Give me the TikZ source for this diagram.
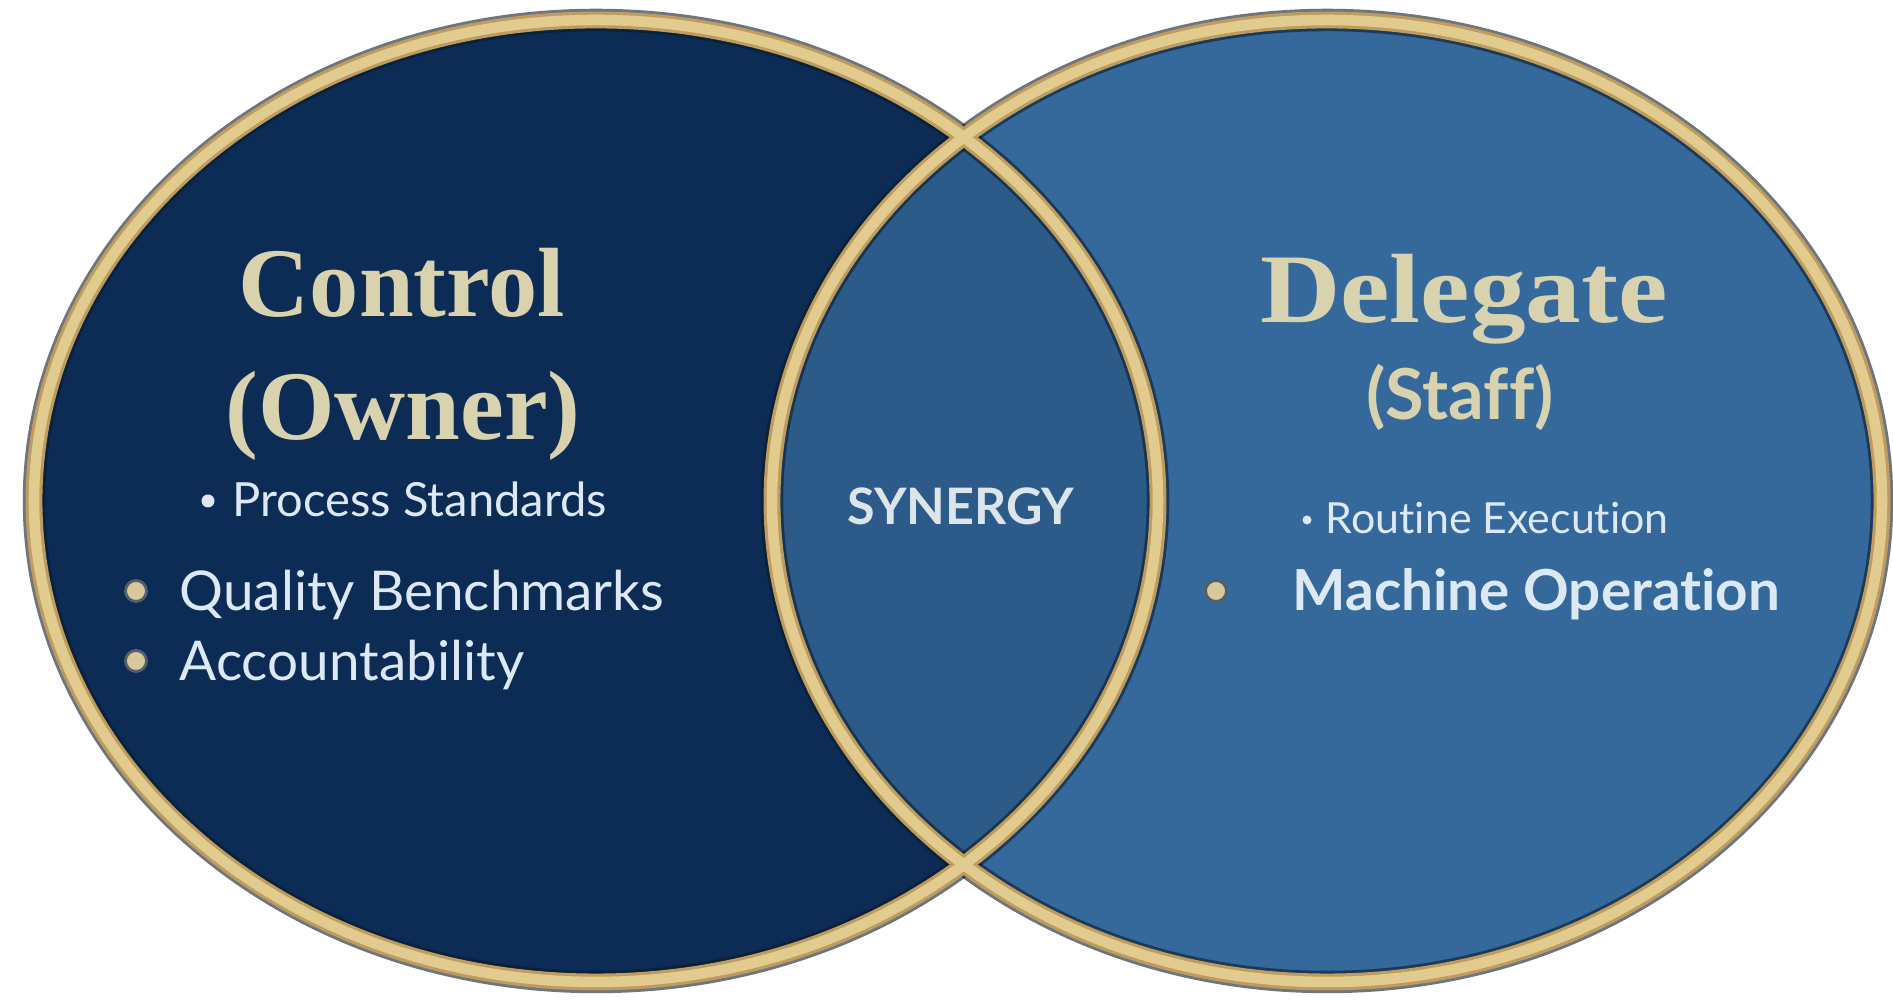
\documentclass[tikz,border=0pt]{standalone}
\usepackage{fontspec}
\usepackage{graphicx}
\setmainfont{Liberation Serif}
\newfontfamily\lato[Ligatures={NoCommon}]{Lato}
\definecolor{navy}{HTML}{0C2C55}
\definecolor{midblue}{HTML}{35699B}
\definecolor{lensblue}{HTML}{2C5B8A}
\definecolor{golddark}{HTML}{BE9C5E}
\definecolor{goldlight}{HTML}{E2CB8E}
\definecolor{shadowcol}{HTML}{0A1A2C}
\definecolor{cream}{HTML}{D8D2AE}
\definecolor{listtext}{HTML}{DCE8F4}
\definecolor{bulletgold}{HTML}{D9C89A}
\tikzset{
  heading/.style={font=\fontsize{28}{30}\selectfont\bfseries, text=cream, inner sep=0pt, anchor=base},
  subhead/.style={font=\lato\fontsize{20}{22}\selectfont\bfseries, text=cream, inner sep=0pt, anchor=base},
  item/.style={font=\lato\fontsize{#1}{#1}\selectfont, text=listtext, inner sep=0pt, anchor=base west},
  bolditem/.style={font=\lato\fontsize{#1}{#1}\selectfont\bfseries, text=listtext, inner sep=0pt, anchor=base west},
  bigdot/.style={circle, fill=bulletgold, draw=shadowcol!70, line width=0.8pt, minimum size=0.21cm, inner sep=0pt},
  smalldot/.style={circle, fill=listtext, minimum size=#1, inner sep=0pt},
  ring/.style={line width=#1},
}
\begin{document}
\begin{tikzpicture}
\useasboundingbox (0,0) rectangle (18.93,10);
\fill[white] (0,0) rectangle (18.93,10);
% fills
\fill[navy] (5.96,4.99) ellipse [x radius=5.62, y radius=4.81];
\fill[midblue] (13.27,4.99) ellipse [x radius=5.55, y radius=4.81];
\begin{scope}
  \clip (5.96,4.99) ellipse [x radius=5.62, y radius=4.81];
  \fill[lensblue] (13.27,4.99) ellipse [x radius=5.55, y radius=4.81];
\end{scope}
% shadows
\draw[draw=shadowcol, draw opacity=0.6, ring=6.4pt] (5.96,4.99) ellipse [x radius=5.62, y radius=4.81];
\draw[draw=shadowcol, draw opacity=0.6, ring=6.4pt] (13.27,4.99) ellipse [x radius=5.55, y radius=4.81];
% gold rings
\draw[golddark, ring=4.8pt] (5.96,4.99) ellipse [x radius=5.62, y radius=4.81];
\draw[golddark, ring=4.8pt] (13.27,4.99) ellipse [x radius=5.55, y radius=4.81];
\draw[goldlight, ring=3.0pt] (5.96,4.99) ellipse [x radius=5.62, y radius=4.81];
\draw[goldlight, ring=3.0pt] (13.27,4.99) ellipse [x radius=5.55, y radius=4.81];
% headings
\node[heading] (control) at (4.02,6.83) {Control};
\node[heading] (owner) at (4.03,5.60) {(Owner)};
\node[heading] (delegate) at (14.64,6.77) {\scalebox{1.13}[1]{Delegate}};
\node[subhead] (staff) at (14.60,5.80) {(Staff)};
% left list
\node[smalldot=0.13cm] (b1) at (2.08,4.99) {};
\node[item=13.4] (t1) at (2.32,4.83) {Process Standards};
\node[bigdot] (b2) at (1.36,4.09) {};
\node[item=15.6] (t2) at (1.79,3.89) {Quality Benchmarks};
\node[bigdot] (b3) at (1.36,3.39) {};
\node[item=15.6] (t3) at (1.79,3.19) {Accountability};
% centre
\node[font=\lato\fontsize{14.3}{15}\selectfont\bfseries, text=listtext!85!cream, inner sep=0pt, anchor=base] (syn) at (9.61,4.75) {SYNERGY};
% right list
\node[smalldot=0.09cm] (b4) at (13.07,4.80) {};
\node[item=12.2] (t4) at (13.25,4.66) {Routine Execution};
\node[bigdot] (b5) at (12.16,4.09) {};
\node[bolditem=16.1] (t5) at (12.92,3.89) {Machine Operation};
\end{tikzpicture}
\end{document}
